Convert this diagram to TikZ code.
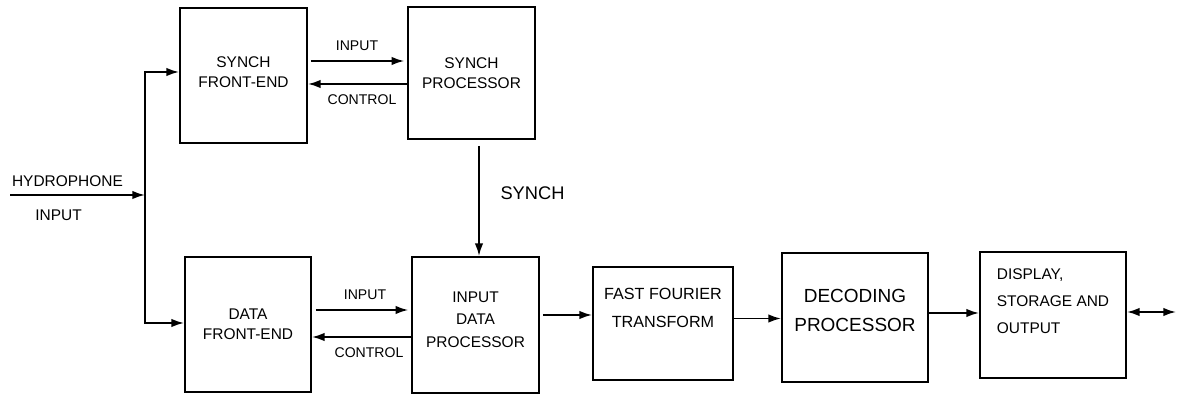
\documentclass[tikz,border=0pt]{standalone}
\usepackage{fontspec}
\setmainfont{Liberation Sans}
\usetikzlibrary{arrows.meta,calc}
\tikzset{
  blk/.style={draw, line width=1.3pt, align=center, inner sep=0pt},
  lift/.style={text depth=#1},
  lbl/.style={inner sep=0pt, font=\fontsize{10}{12}\selectfont},
  wire/.style={line width=1.3pt, ->, >={Latex[length=9pt,width=6pt]}},
}

\begin{document}
\begin{tikzpicture}[x=0.025cm, y=0.025cm]
\useasboundingbox (0,0) rectangle (1177,394);
% blocks
\node[blk, minimum width=3.175cm, minimum height=3.375cm, lift=5pt, font=\fontsize{11}{14}\selectfont] (sfe) at (243.5,318.5) {SYNCH\\FRONT-END};
\node[blk, minimum width=3.175cm, minimum height=3.3cm, font=\fontsize{11}{14}\selectfont] (sp) at (471.5,321) {SYNCH\\PROCESSOR};
\node[blk, minimum width=3.15cm, minimum height=3.375cm, font=\fontsize{11}{14}\selectfont] (dfe) at (248,69.5) {DATA\\FRONT-END};
\node[blk, minimum width=3.175cm, minimum height=3.4cm, lift=8pt, font=\fontsize{11}{16}\selectfont] (idp) at (475.5,69) {INPUT\\DATA\\PROCESSOR};
\node[blk, minimum width=3.5cm, minimum height=2.825cm, lift=22pt, font=\fontsize{11.5}{20}\selectfont] (fft) at (663,70.5) {FAST FOURIER\\TRANSFORM};
\node[blk, minimum width=3.65cm, minimum height=3.225cm, lift=10pt, font=\fontsize{13.5}{21}\selectfont] (dec) at (855,76.5) {DECODING\\PROCESSOR};
\node[blk, minimum width=3.65cm, minimum height=3.15cm, lift=20pt, align=left, font=\fontsize{11}{19}\selectfont] (disp) at (1053,79) {DISPLAY,\\STORAGE AND\\OUTPUT};
% labels
\node[lbl, font=\fontsize{11}{13}\selectfont] (hydro) at (67.5,212.5) {HYDROPHONE};
\node[lbl, font=\fontsize{11}{13}\selectfont] (hydin) at (58.5,179) {INPUT};
\node[lbl] (tin) at (357,348) {INPUT};
\node[lbl] (tctl) at (362,294) {CONTROL};
\node[lbl] (bin) at (365,99) {INPUT};
\node[lbl] (bctl) at (369,41.5) {CONTROL};
\node[lbl, font=\fontsize{13}{15}\selectfont] (synch) at (532.5,200.5) {SYNCH};
% connectors
\coordinate (hyd) at (10,199);
\coordinate (jn) at (145,199);
\draw[wire] (hyd) -- (jn);
\draw[wire] (jn) |- ($(sfe.west)+(0,3.5)$);
\draw[wire] (jn) |- ($(dfe.west)+(0,1.5)$);
\coordinate (sfe-i) at ($(sfe.east)+(3,14.5)$);
\draw[wire, shorten >=2pt] (sfe-i) -- (sfe-i -| sp.west);
\coordinate (sp-c) at ($(sp.west)+(0,-11)$);
\draw[wire] (sp-c) -- (sp-c -| sfe.east);
\coordinate (dfe-i) at ($(dfe.east)+(4,14.5)$);
\draw[wire, shorten >=2pt] (dfe-i) -- (dfe-i -| idp.west);
\coordinate (idp-c) at ($(idp.west)+(0,-12)$);
\draw[wire] (idp-c) -- (idp-c -| dfe.east);
\coordinate (sp-s) at ($(sp.south)+(7.5,-6)$);
\draw[wire] (sp-s) -- (sp-s |- idp.north);
\coordinate (idp-o) at ($(idp.east)+(3,10)$);
\draw[wire] (idp-o) -- (idp-o -| fft.west);
\coordinate (fft-o) at ($(fft.east)+(0,5)$);
\draw[wire] (fft-o) -- (fft-o -| dec.west);
\coordinate (dec-o) at ($(dec.east)+(0,4.5)$);
\draw[wire] (dec-o) -- (dec-o -| disp.west);
\coordinate (out) at (1176,82);
\draw[wire, <->] (disp.east |- out) -- (out);
\end{tikzpicture}
\end{document}
